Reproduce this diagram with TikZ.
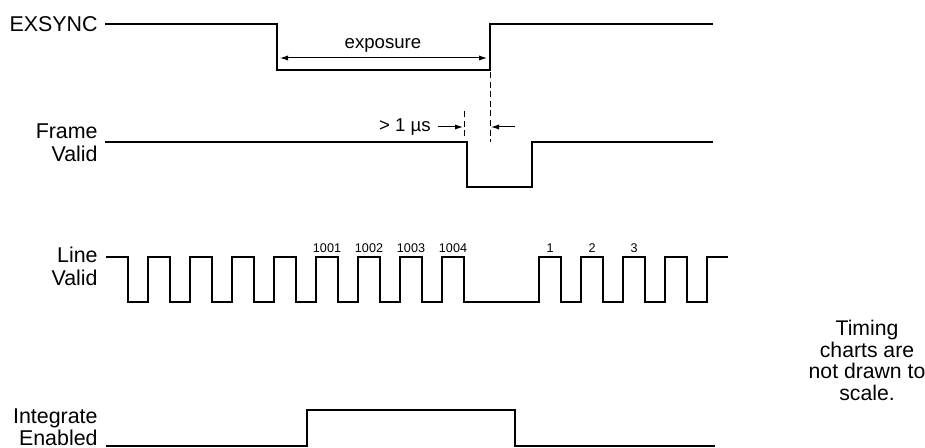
\documentclass[tikz,border=0pt]{standalone}
\usepackage{fontspec}
\setmainfont{Liberation Sans}
\usetikzlibrary{arrows.meta}
\tikzset{
  sig/.style  = {line width=1pt, line join=miter},
  dim/.style  = {line width=0.5pt},
  dimar/.style= {dim, -{Latex[length=4pt,width=2.6pt]}},
  guide/.style= {line width=0.5pt, dash pattern=on 3pt off 1.8pt},
  lbl/.style  = {anchor=east, align=right, inner sep=0pt, font=\fontsize{10.7}{11.3}\selectfont},
  ann/.style  = {inner sep=0pt, font=\fontsize{9.3}{11}\selectfont},
  cnt/.style  = {inner sep=0pt, font=\fontsize{6.3}{7}\selectfont},
}
\begin{document}
\begin{tikzpicture}[x=0.5pt, y=-0.5pt]
  \useasboundingbox (0,0) rectangle (925,448);
  % signal names
  \node[lbl] (exsync) at (98,24)    {EXSYNC};
  \node[lbl] (frame)  at (98,142.5) {Frame\\Valid};
  \node[lbl] (line)   at (98,266.5) {Line\\Valid};
  \node[lbl, anchor=south east] (integ) at (98,446.5) {Integrate\\Enabled};
  % EXSYNC
  \draw[sig] (105,24) -- (277,24) -- (277,70) -- (490,70) -- (490,24) -- (713,24);
  \node[ann] (exp) at (383,45) {exposure};
  \coordinate (expL) at (280,58);
  \coordinate (expR) at (487,58);
  \draw[dim, {Latex[length=4pt,width=2.6pt]}-{Latex[length=4pt,width=2.6pt]}] (expL) -- (expR);
  % Frame Valid
  \draw[sig] (105,142) -- (467,142) -- (467,187) -- (532,187) -- (532,142) -- (713,142);
  \draw[guide] (490,72) -- (490,142);
  \draw[guide] (464,111) -- (464,138);
  \node[ann, anchor=east] (gap) at (431,127) {> 1 µs};
  \coordinate (gapA) at (438,127);
  \coordinate (gapB) at (463,127);
  \coordinate (gapC) at (515,127);
  \coordinate (gapD) at (491,127);
  \draw[dimar] (gapA) -- (gapB);
  \draw[dimar] (gapC) -- (gapD);
  % Line Valid
  \draw[sig] (106,257) -- (128,257) -- (128,302)
    foreach \r in {148,190,232,274,316,358,400,442} {
      -- (\r,302) -- (\r,257) -- ({\r+22},257) -- ({\r+22},302) }
    foreach \r in {539,581,623,665} {
      -- (\r,302) -- (\r,257) -- ({\r+22},257) -- ({\r+22},302) }
    -- (707,302) -- (707,257) -- (728,257);
  \foreach \r/\t in {316/1001,358/1002,400/1003,442/1004,539/1,581/2,623/3}
    \node[cnt] (n\t) at ({\r+11},248) {\t};
  % Integrate Enabled
  \draw[sig] (106,446) -- (307,446) -- (307,410) -- (515,410) -- (515,446) -- (715,446);
  % note
  \node[align=center, inner sep=0pt, font=\fontsize{10.6}{10.9}\selectfont] (note) at (867,360.5)
    {Timing\\charts are\\not drawn to\\scale.};
\end{tikzpicture}
\end{document}
